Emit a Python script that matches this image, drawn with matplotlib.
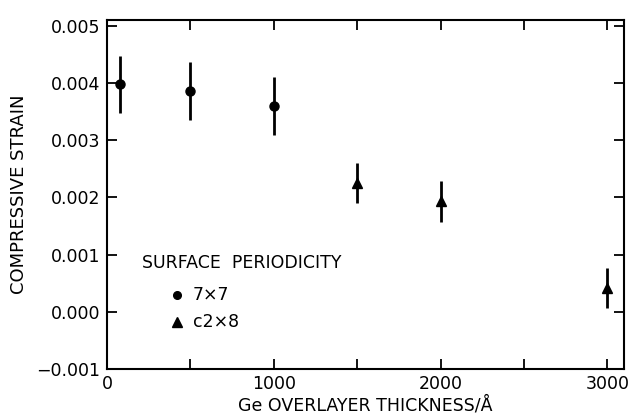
import matplotlib
matplotlib.use("Agg")
import matplotlib.pyplot as plt
from matplotlib.ticker import MultipleLocator

plt.rcParams['font.family'] = ['DejaVu Sans']

x_7x7 = [80, 500, 1000]
y_7x7 = [0.00398, 0.00386, 0.00360]
e_7x7 = [0.0005, 0.0005, 0.0005]

x_c2x8 = [1500, 2000, 3000]
y_c2x8 = [0.00226, 0.00193, 0.00041]
e_c2x8 = [0.00035, 0.00035, 0.00035]

xticks = [0, 1000, 2000, 3000]
yticks = [-0.001, 0.000, 0.001, 0.002, 0.003, 0.004, 0.005]

fig = plt.figure(figsize=(6.34, 4.19), dpi=100)
ax = fig.add_axes([0.169, 0.119, 0.815, 0.833])

ax.errorbar(x_7x7, y_7x7, yerr=e_7x7, fmt='o', color='black', ms=6.5,
            elinewidth=2, capsize=0)
ax.errorbar(x_c2x8, y_c2x8, yerr=e_c2x8, fmt='^', color='black', ms=7.5,
            elinewidth=2, capsize=0)

ax.set_xlim(0, 3100)
ax.set_ylim(-0.001, 0.0051)
ax.set_xticks(xticks)
ax.set_yticks(yticks)
ax.set_yticklabels([f"{v:.3f}".replace('-', '\u2212') for v in yticks])
ax.xaxis.set_minor_locator(MultipleLocator(500))
ax.tick_params(which='both', direction='in', top=True, right=True,
               labelsize=12.5, width=1.3)
ax.tick_params(which='major', length=7)
ax.tick_params(which='minor', length=7)
ax.tick_params(axis='x', pad=4)
ax.tick_params(axis='y', pad=5)
for s in ax.spines.values():
    s.set_linewidth(1.5)

ax.set_xlabel("Ge OVERLAYER THICKNESS/Å", fontsize=12.5, labelpad=2)
ax.set_ylabel("COMPRESSIVE STRAIN", fontsize=13, labelpad=6)

ax.text(210, 0.00086, "SURFACE  PERIODICITY", fontsize=12.5, va='center')
ax.plot([420], [0.00029], 'o', color='black', ms=5.5)
ax.text(515, 0.00029, "7×7", fontsize=12.5, va='center')
ax.plot([420], [-0.00017], '^', color='black', ms=7)
ax.text(515, -0.00017, "c2×8", fontsize=12.5, va='center')

fig.savefig("out.png", dpi=100)
